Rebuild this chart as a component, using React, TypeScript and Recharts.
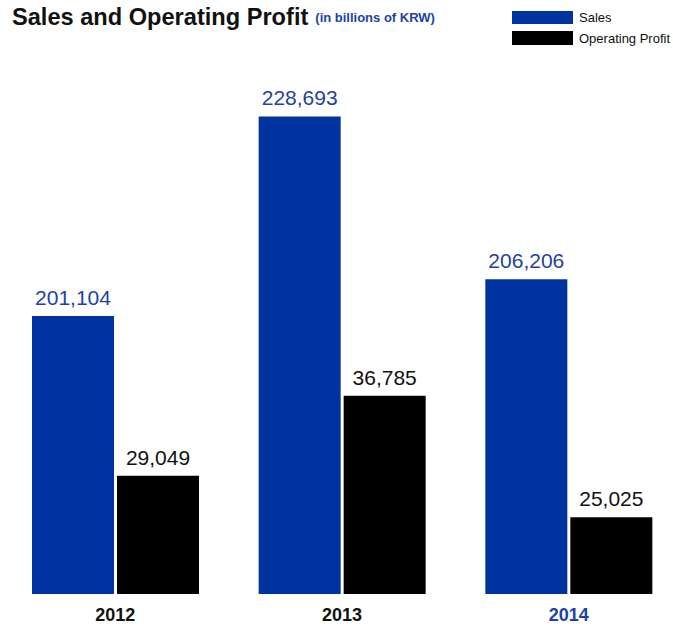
import { BarChart, Bar, XAxis, YAxis, LabelList } from 'recharts';

// Figures in billions of KRW
const years = ['2012', '2013', '2014'];
const sales = [201104, 228693, 206206];
const operatingProfit = [29049, 36785, 25025];

const data = years.map((year, i) => ({
  year,
  sales: sales[i],
  profit: operatingProfit[i],
}));

const BLUE = '#0033a0';
const TEXT_BLUE = '#1d43a3';
const FONT = '"Liberation Sans", Arial, Helvetica, sans-serif';

const fmt = (v: number) => v.toLocaleString('en-US');

// Year labels under the bars, latest year highlighted in blue
const YearTick = ({ x, y, payload }: any) => {
  const last = payload.value === years[years.length - 1];
  return (
    <text
      x={x}
      y={y}
      dy={19}
      textAnchor="middle"
      fontFamily={FONT}
      fontSize={18}
      fontWeight="bold"
      fill={last ? TEXT_BLUE : '#111'}
    >
      {payload.value}
    </text>
  );
};

export default function App() {
  return (
    <div style={{ position: 'absolute', left: 0, top: 0, width: 673, height: 628, background: '#fff', fontFamily: FONT }}>
      <div style={{ position: 'absolute', left: 12, top: 4, whiteSpace: 'nowrap' }}>
        <span style={{ fontSize: 23.6, fontWeight: 'bold', color: '#111' }}>Sales and Operating Profit</span>
        <span style={{ fontSize: 13, fontWeight: 'bold', color: TEXT_BLUE, marginLeft: 7, verticalAlign: 3 }}>
          (in billions of KRW)
        </span>
      </div>

      <div style={{ position: 'absolute', left: 512, top: 11, fontSize: 13, color: '#111' }}>
        <div style={{ display: 'flex', alignItems: 'center', height: 13, marginBottom: 7 }}>
          <span style={{ display: 'inline-block', width: 61, height: 13, background: BLUE, marginRight: 6 }} />
          Sales
        </div>
        <div style={{ display: 'flex', alignItems: 'center', height: 14 }}>
          <span style={{ display: 'inline-block', width: 61, height: 14, background: '#000', marginRight: 6 }} />
          Operating Profit
        </div>
      </div>

      <BarChart
        width={673}
        height={628}
        data={data}
        margin={{ top: 60, right: -9, left: 2, bottom: 4 }}
        barSize={82}
        barGap={3}
      >
        <XAxis dataKey="year" axisLine={false} tickLine={false} tick={<YearTick />} />
        <YAxis yAxisId="sales" hide domain={[162700, 236500]} />
        <YAxis yAxisId="profit" hide domain={[17600, 69300]} />
        <Bar yAxisId="sales" dataKey="sales" fill={BLUE} isAnimationActive={false}>
          <LabelList
            dataKey="sales"
            position="top"
            offset={11}
            formatter={fmt}
            style={{ fontFamily: FONT, fontSize: 21, fill: TEXT_BLUE }}
          />
        </Bar>
        <Bar yAxisId="profit" dataKey="profit" fill="#000" isAnimationActive={false}>
          <LabelList
            dataKey="profit"
            position="top"
            offset={11}
            formatter={fmt}
            style={{ fontFamily: FONT, fontSize: 21, fill: '#111' }}
          />
        </Bar>
      </BarChart>
    </div>
  );
}
